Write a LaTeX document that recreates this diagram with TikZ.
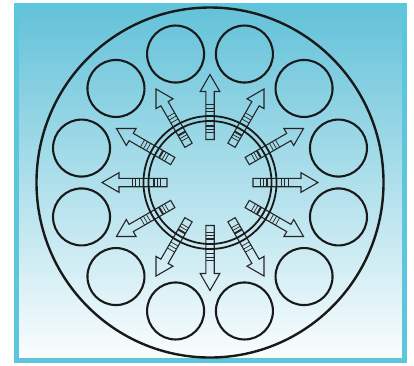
\documentclass[tikz,border=0pt]{standalone}
\usetikzlibrary{calc}
\begin{document}
\begin{tikzpicture}[x=1pt,y=-1pt,
  framecol/.style={draw={rgb,255:red,92;green,198;blue,220}},
  bigline/.style={draw=black!90,line width=2.4pt},
  smallc/.style={draw=black!90,line width=2.1pt},
  ringline/.style={draw=black!90,line width=1.8pt},
  arrowline/.style={draw=black!85,line width=1.1pt,line join=miter},
  ladder/.style={draw=black!85,line width=0.7pt}]
\useasboundingbox (0,0) rectangle (414,365);
\fill[white] (0,0) rectangle (414,365);
\shade[top color={rgb,255:red,100;green,194;blue,217},bottom color={rgb,255:red,250;green,253;blue,254}] (19,8) rectangle (402,358);
\draw[framecol,line width=5pt] (16.5,5.5) rectangle (404.5,360.5);
\coordinate (c) at (210,182.5);
% outer circle
\draw[bigline] (c) ellipse [x radius=173.5,y radius=175];
% small circles
\foreach \a in {15,45,...,345}{
  \draw[smallc] ($(c)+(\a:133)$) circle (28.5);
}
% arrows
\foreach \a in {0,30,...,330}{
  \begin{scope}[shift={(c)},rotate=\a]
    \draw[arrowline] (43,-4.2) -- (91,-4.2) -- (91,-9.8) -- (108,0) -- (91,9.8) -- (91,4.2) -- (43,4.2) -- cycle;
    \foreach \r in {50,53,71,74.5,78}{
      \draw[ladder] (\r,-4.2) -- (\r,4.2);
    }
    \fill[black!85] (55.5,-4.2) rectangle (57.5,4.2);
  \end{scope}
}
% ring
\draw[ringline] (c) circle (66.5);
\draw[ringline] (c) circle (61.5);
\end{tikzpicture}
\end{document}
